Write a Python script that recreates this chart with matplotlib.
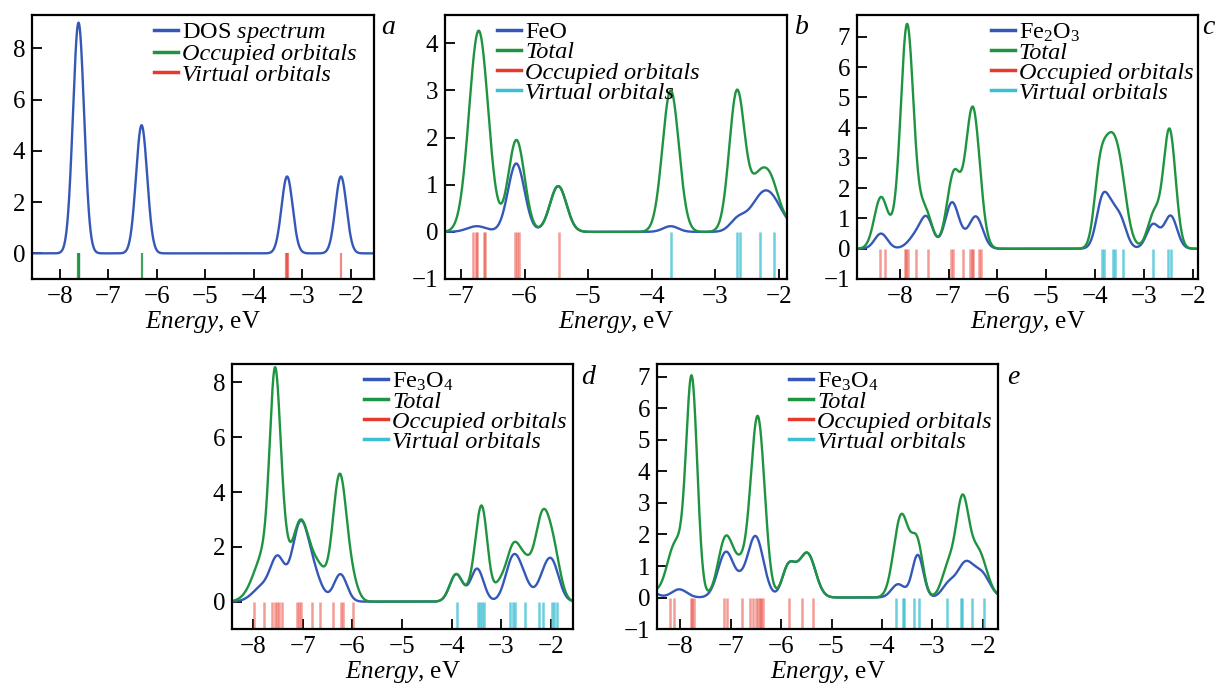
import numpy as np
import matplotlib
matplotlib.use('Agg')
import matplotlib.pyplot as plt
from matplotlib.lines import Line2D

plt.rcParams['font.family'] = ['Liberation Serif', 'DejaVu Serif']
plt.rcParams['mathtext.fontset'] = 'custom'
plt.rcParams['mathtext.rm'] = 'Liberation Serif'
plt.rcParams['mathtext.it'] = 'Liberation Serif:italic'

BLUE = '#3558b8'
GREEN = '#1f9440'
RED = '#e63a2e'
CYAN = '#3bbfd2'

# DOS peaks: (energy eV, height, gaussian width eV)
# "partial" is the blue curve, "rest" is added on top of it to give the green total

# a: single molecule DOS
a_dos_peaks = [(-7.61, 9.0, 0.115), (-6.31, 5.0, 0.115), (-3.31, 3.0, 0.115), (-2.20, 3.0, 0.115)]
a_occupied = [-7.63, -7.61, -7.59, -6.31]
a_virtual = [-3.33, -3.31, -3.29, -2.20]

# b: FeO
b_partial_peaks = [(-6.75, 0.12, 0.15), (-6.13, 1.45, 0.13), (-5.47, 0.97, 0.13),
                   (-3.70, 0.12, 0.12), (-2.65, 0.22, 0.12), (-2.20, 0.88, 0.22)]
b_rest_peaks = [(-6.72, 4.15, 0.15), (-6.12, 0.50, 0.12), (-3.70, 2.88, 0.13),
                (-2.66, 2.68, 0.12), (-2.32, 0.45, 0.13), (-2.12, 0.25, 0.10)]
b_occupied = [-6.81, -6.77, -6.74, -6.64, -6.62, -6.15, -6.12, -6.09, -5.46]
b_virtual = [-3.70, -2.65, -2.61, -2.30, -2.07]

# c: Fe2O3
c_partial_peaks = [(-8.38, 0.50, 0.13), (-7.60, 0.55, 0.18), (-7.43, 0.70, 0.12),
                   (-6.93, 1.52, 0.14), (-6.68, 0.12, 0.12), (-6.44, 1.05, 0.14),
                   (-3.84, 1.72, 0.13), (-3.66, 0.45, 0.10), (-3.50, 1.00, 0.13),
                   (-2.82, 0.80, 0.13), (-2.46, 1.08, 0.13)]
c_rest_peaks = [(-8.38, 1.20, 0.14), (-8.12, 0.30, 0.10), (-7.85, 7.20, 0.13),
                (-7.55, 0.30, 0.10), (-6.85, 1.05, 0.12), (-6.52, 3.70, 0.14),
                (-3.95, 0.80, 0.10), (-3.62, 2.30, 0.20), (-2.75, 0.40, 0.12),
                (-2.49, 2.85, 0.12)]
c_occupied = [-8.41, -8.29, -7.90, -7.86, -7.82, -7.67, -7.42, -6.94, -6.91,
              -6.71, -6.56, -6.52, -6.49, -6.37, -6.33]
c_virtual = [-3.86, -3.82, -3.63, -3.59, -3.44, -2.83, -2.51, -2.46]

# d: Fe3O4
d_partial_peaks = [(-7.80, 0.55, 0.20), (-7.50, 1.45, 0.14), (-7.06, 2.60, 0.16),
                   (-6.80, 1.00, 0.17), (-6.24, 1.00, 0.13),
                   (-3.91, 1.00, 0.13), (-3.49, 1.20, 0.13), (-2.77, 1.50, 0.15),
                   (-2.55, 0.60, 0.15), (-2.20, 0.35, 0.12), (-2.00, 1.50, 0.15)]
d_rest_peaks = [(-7.56, 5.60, 0.10), (-7.70, 1.30, 0.25), (-7.40, 0.80, 0.10),
                (-6.62, 0.55, 0.13), (-6.26, 3.60, 0.14), (-6.00, 0.60, 0.12),
                (-3.38, 2.60, 0.11), (-3.05, 0.50, 0.12), (-2.75, 0.35, 0.12),
                (-2.50, 0.50, 0.12), (-2.20, 2.20, 0.15), (-1.90, 0.40, 0.12)]
d_occupied = [-7.97, -7.78, -7.61, -7.56, -7.52, -7.47, -7.42, -7.12, -7.07, -7.03,
              -6.81, -6.65, -6.38, -6.23, -6.19, -5.98]
d_virtual = [-3.90, -3.48, -3.44, -3.40, -3.36, -2.83, -2.77, -2.72, -2.52,
             -2.24, -2.17, -1.99, -1.94, -1.89]

# e: Fe3O4
e_partial_peaks = [(-8.55, 0.15, 0.12), (-8.02, 0.26, 0.15), (-7.09, 1.45, 0.16),
                   (-6.80, 0.20, 0.10), (-6.51, 1.95, 0.16), (-5.86, 0.95, 0.12),
                   (-5.70, 0.20, 0.10), (-5.48, 1.40, 0.16),
                   (-3.68, 0.42, 0.13), (-3.29, 1.35, 0.11), (-2.68, 0.40, 0.13),
                   (-2.35, 1.05, 0.16), (-2.02, 0.72, 0.16)]
e_rest_peaks = [(-8.10, 1.50, 0.17), (-7.77, 6.75, 0.11), (-7.12, 0.40, 0.12),
                (-6.85, 0.45, 0.15), (-6.45, 3.90, 0.13),
                (-3.60, 2.25, 0.15), (-3.35, 0.30, 0.12), (-2.68, 0.55, 0.13),
                (-2.41, 2.10, 0.12), (-2.10, 0.60, 0.13)]
e_occupied = [-8.20, -8.12, -7.79, -7.76, -7.72, -7.13, -7.08, -6.77, -6.61, -6.56,
              -6.49, -6.46, -6.42, -6.39, -6.35, -5.84, -5.58, -5.36]
e_virtual = [-3.72, -3.59, -3.56, -3.36, -3.27, -2.71, -2.44, -2.41, -2.21, -1.98]


def broaden(energy, peaks):
    out = np.zeros_like(energy)
    for center, height, width in peaks:
        out += height * np.exp(-0.5 * ((energy - center) / width) ** 2)
    return out


def style_axes(ax, xlim, ylim, yticks):
    # ticks first, otherwise set_xticks widens the view
    ax.set_xticks(range(-8, -1))
    ax.set_yticks(yticks)
    ax.set_xlim(*xlim)
    ax.set_ylim(*ylim)
    ax.tick_params(direction='in', length=7, width=1.3, labelsize=18,
                   top=False, right=False, pad=5)
    for sp in ax.spines.values():
        sp.set_linewidth(1.6)
    ax.set_xlabel('$\\mathit{Energy}$, eV', fontsize=18, labelpad=1)


def add_legend(ax, handles, labels, x, italic):
    leg = ax.legend(handles, labels, loc='upper left', bbox_to_anchor=(x, 0.985),
                    frameon=False, fontsize=17.5, handlelength=1.0, handletextpad=0.15,
                    labelspacing=-0.08, borderaxespad=0.0, borderpad=0.1)
    for t, it in zip(leg.get_texts(), italic):
        if it:
            t.set_fontstyle('italic')


fig = plt.figure(figsize=(12.2, 6.87), dpi=100)

# panel a
ax = fig.add_axes([0.0262, 0.5939, 0.2803, 0.3843])
xlim = (-8.57, -1.52)
en = np.linspace(*xlim, 1500)
ax.vlines(a_occupied, -1, 0, colors=GREEN, lw=1.6, alpha=0.85)
ax.vlines(a_virtual, -1, 0, colors=RED, lw=1.6, alpha=0.6)
ax.plot(en, broaden(en, a_dos_peaks), color=BLUE, lw=1.7)
style_axes(ax, xlim, (-1, 9.3), [0, 2, 4, 6, 8])
add_legend(ax, [Line2D([], [], color=BLUE, lw=2.5), Line2D([], [], color=GREEN, lw=2.5),
                Line2D([], [], color=RED, lw=2.5)],
           ['DOS $\\mathit{spectrum}$', 'Occupied orbitals', 'Virtual orbitals'],
           0.35, [False, True, True])
fig.text(388 / 1220, 1 - 28 / 687, 'a', fontsize=20, style='italic', ha='center', va='center')

panels = [
    ('b', [0.3648, 0.5939, 0.2803, 0.3843], (-7.25, -1.87), (-1, 4.6), range(-1, 5),
     b_partial_peaks, b_rest_peaks, b_occupied, b_virtual, 'FeO', 0.145, (802, 27)),
    ('c', [0.7025, 0.5939, 0.2795, 0.3843], (-8.87, -1.90), (-1, 7.72), range(-1, 8),
     c_partial_peaks, c_rest_peaks, c_occupied, c_virtual, 'Fe$_2$O$_3$', 0.385, (1208, 27)),
    ('d', [0.1902, 0.0844, 0.2795, 0.3857], (-8.42, -1.56), (-1, 8.67), [0, 2, 4, 6, 8],
     d_partial_peaks, d_rest_peaks, d_occupied, d_virtual, 'Fe$_3$O$_4$', 0.38, (588, 377)),
    ('e', [0.5385, 0.0844, 0.2795, 0.3857], (-8.46, -1.70), (-1, 7.41), range(-1, 8),
     e_partial_peaks, e_rest_peaks, e_occupied, e_virtual, 'Fe$_3$O$_4$', 0.38, (1013, 377)),
]

for (tag, pos, xlim, ylim, yticks, part, rest, occ, virt,
     name, legx, tagxy) in panels:
    ax = fig.add_axes(pos)
    en = np.linspace(*xlim, 1500)
    partial = broaden(en, part)
    total = partial + broaden(en, rest)
    ax.vlines(occ, -1, 0, colors=RED, lw=1.8, alpha=0.5)
    ax.vlines(virt, -1, 0, colors=CYAN, lw=1.8, alpha=0.75)
    ax.plot(en, partial, color=BLUE, lw=1.7)
    ax.plot(en, total, color=GREEN, lw=1.7)
    style_axes(ax, xlim, ylim, yticks)
    add_legend(ax, [Line2D([], [], color=c, lw=2.5) for c in (BLUE, GREEN, RED, CYAN)],
               [name, 'Total', 'Occupied orbitals', 'Virtual orbitals'],
               legx, [False, True, True, True])
    fig.text(tagxy[0] / 1220, 1 - tagxy[1] / 687, tag, fontsize=20, style='italic',
             ha='center', va='center')

fig.savefig('out.png', dpi=100)
